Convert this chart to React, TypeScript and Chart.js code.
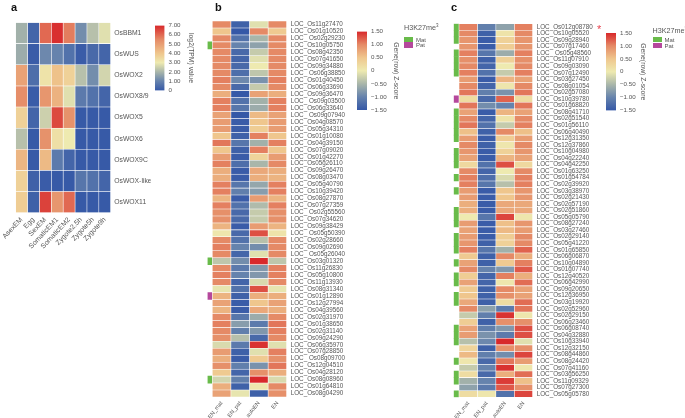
import React, { useEffect, useRef } from "react";
import { Chart, registerables } from "chart.js";

Chart.register(...registerables);

const stageNames = ["AsexEM", "Egg", "SexEM", "SomaticEM1", "SomaticEM2", "Zygote2.5h", "Zygote5h", "Zygote9h"];
const wuxGenes = ["OsBBM1", "OsWUS", "OsWOX2", "OsWOX8/9", "OsWOX5", "OsWOX6", "OsWOX9C", "OsWOX-like", "OsWOX11"];
const wuxValues = [
  [1.9, 0.3, 6.0, 6.9, 5.7, 1.2, 2.2, 2.8],
  [1.8, 0.1, 1.1, 1.0, 0.6, 0.1, 0.4, 0.3],
  [4.9, 0.5, 3.2, 4.1, 3.7, 2.2, 1.2, 2.6],
  [5.4, 0.1, 5.2, 4.5, 2.8, 0.8, 0.6, 0.3],
  [3.7, 0.3, 2.5, 6.5, 5.3, 0.05, 0.05, 0.05],
  [2.2, 0.05, 5.3, 3.3, 3.0, 0.05, 0.05, 0.05],
  [4.4, 0.05, 4.3, 0.8, 0.3, 0.05, 0.05, 0.05],
  [3.7, 0.2, 0.1, 0.05, 0.05, 0.7, 0.6, 0.3],
  [3.8, 0.2, 6.6, 5.2, 6.0, 0.05, 0.05, 0.05],
];

const tissueNames = ["EN_mat", "EN_pat", "autoEN", "EN"];

const genesB = ["LOC_Os11g27470","LOC_Os01g10520","LOC_ Os02g29230","LOC_Os10g05750","LOC_Os08g42350","LOC_Os07g41650","LOC_Os09g34880","LOC_ Os06g38850","LOC_Os01g40450","LOC_Os06g33690","LOC_Os09g36470","LOC_ Os09g03500","LOC_Os06g33640","LOC_ Os09g07940","LOC_Os04g08570","LOC_Os05g34310","LOC_Os01g10080","LOC_Os04g39150","LOC_Os07g09020","LOC_Os01g42270","LOC_Os05g26110","LOC_Os09g26470","LOC_Os08g03470","LOC_Os05g40790","LOC_Os10g39420","LOC_Os08g27870","LOC_Os07g27359","LOC_ Os02g55560","LOC_Os07g34620","LOC_Os09g38429","LOC_ Os05g50390","LOC_Os02g28660","LOC_Os09g02690","LOC_ Os05g26040","LOC_Os03g01320","LOC_Os11g26830","LOC_Os05g10800","LOC_Os11g13930","LOC_Os08g31340","LOC_Os01g12890","LOC_Os12g27994","LOC_Os04g39560","LOC_Os02g31970","LOC_Os01g38650","LOC_Os02g31140","LOC_Os09g24290","LOC_Os06g35970","LOC_Os07g28850","LOC_ Os08g09700","LOC_Os12g04510","LOC_Os04g28120","LOC_Os08g08960","LOC_Os01g64810","LOC_Os08g04290"];
const valuesB = [
[1.0,-1.4,-0.1,1.0],[0.5,-1.5,1.0,0.45],[1.0,-1.2,-0.5,1.0],[1.0,-1.0,-0.7,1.0],[1.0,-1.3,-0.3,1.0],[1.0,-1.35,-0.1,1.0],[1.0,-1.3,0.0,1.0],[1.0,-1.25,-0.35,1.0],[1.05,-0.95,-0.85,1.05],[1.0,-1.3,-0.3,1.0],
[0.7,-1.5,0.8,0.7],[1.05,-1.2,-0.55,1.05],[1.05,-1.15,-0.6,1.05],[0.8,-1.5,0.6,0.8],[0.85,-1.45,0.5,0.85],[0.85,-1.45,0.4,0.85],[0.5,-1.4,1.05,0.5],[1.1,-1.15,-0.55,1.05],[0.5,-1.4,1.05,0.5],[0.85,-1.45,0.3,0.85],
[1.05,-1.25,-0.5,1.0],[0.7,-1.45,0.75,0.7],[0.7,-1.45,0.7,0.65],[1.05,-1.15,-0.65,1.05],[1.05,-1.05,-0.75,1.05],[0.65,-1.45,0.85,0.65],[1.05,-1.2,-0.45,1.05],[0.95,-1.3,-0.3,0.95],[0.95,-1.3,-0.3,0.95],[0.65,-1.45,0.85,0.65],
[0.05,-1.3,1.3,0.1],[1.0,-1.2,-0.4,1.0],[1.05,-1.0,-0.9,1.0],[1.0,-1.35,-0.1,1.0],[-0.35,-0.9,1.5,-0.35],[1.0,-1.1,-0.8,1.05],[1.05,-1.0,-0.8,1.05],[1.0,-1.35,-0.15,1.0],[-0.05,-1.2,1.3,-0.05],[0.65,-1.4,0.7,0.7],
[0.8,-1.45,0.5,0.8],[0.65,-1.45,0.75,0.7],[1.0,-1.15,-0.6,1.0],[1.05,-0.75,-1.1,1.1],[1.0,-1.05,-0.8,1.05],[0.95,-0.4,-1.3,1.0],[-0.15,-1.1,1.45,-0.1],[0.85,-1.4,-0.1,1.05],[0.7,-1.45,0.45,0.95],[0.95,-1.05,-0.85,1.1],
[0.45,-1.35,0.95,0.7],[-0.2,-1.05,1.5,-0.15],[0.7,-1.4,0.05,1.0],[0.8,-0.05,-1.4,0.95],
];
const imprintB = ["","","","M","","","","","","","","","","","","","","","","","","","","","","","","","","","","","","","M","","","","","P","","","","","","","","","","","","M","",""];

const genesC = ["LOC_Os012g08780","LOC_Os10g05520","LOC_Os09g28940","LOC_Os07g17460","LOC_ Os05g48560","LOC_Os11g07910","LOC_Os09g03090","LOC_Os07g12490","LOC_Os03g27450","LOC_Os08g01054","LOC_Os02g57080","LOC_Os10g39780","LOC_Os01g68820","LOC_Os08g41710","LOC_Os02g51540","LOC_Os01g56110","LOC_Os06g40490","LOC_Os12g31350","LOC_Os12g37860","LOC_Os10g04980","LOC_Os04g22240","LOC_Os04g42250","LOC_Os01g63250","LOC_Os01g54784","LOC_Os02g39920","LOC_Os03g38970","LOC_Os02g21430","LOC_Os02g57190","LOC_Os02g51860","LOC_Os05g05790","LOC_Os08g27240","LOC_Os03g27460","LOC_Os02g29140","LOC_Os05g41220","LOC_Os01g65850","LOC_Os06g06870","LOC_Os10g04890","LOC_Os01g07740","LOC_Os12g40520","LOC_Os06g42990","LOC_Os09g20650","LOC_Os12g36950","LOC_Os03g19920","LOC_Os02g52960","LOC_Os02g29150","LOC_Os06g23460","LOC_Os06g08740","LOC_Os04g32880","LOC_Os10g33940","LOC_Os12g32150","LOC_Os08g44860","LOC_Os08g24420","LOC_Os07g41160","LOC_Os03g56250","LOC_Os11g09329","LOC_Os07g27300","LOC_Os05g05780"];
const valuesC = [
[1.05,-1.05,-0.7,1.05],[1.0,-1.4,0.1,1.0],[0.9,-1.45,0.35,0.9],[0.9,-1.45,0.4,0.9],[1.05,-1.15,-0.6,1.05],[0.95,-1.4,0.35,0.95],[1.0,-1.35,0.0,1.0],[1.05,-1.2,-0.3,1.05],[0.85,-1.45,0.65,0.8],[1.0,-1.35,0.05,1.0],
[1.1,-1.05,-0.85,1.1],[0.2,-1.3,1.2,0.2],[1.1,-0.9,-1.0,1.1],[0.8,-1.45,0.65,0.8],[1.0,-1.35,0.1,1.0],[1.1,-1.2,-0.3,1.05],[0.55,-1.4,1.0,0.55],[0.85,-1.45,0.4,0.85],[1.0,-1.4,0.05,1.0],[0.9,-1.45,0.35,0.9],
[0.8,-1.45,0.65,0.8],[0.25,-1.2,1.3,0.25],[1.0,-1.35,0.0,1.0],[1.05,-1.25,-0.15,1.05],[1.05,-1.15,-0.4,1.05],[0.85,-1.45,0.5,0.9],[0.85,-1.45,0.5,0.9],[0.7,-1.45,0.75,0.75],[0.7,-1.45,0.75,0.75],[0.0,-1.15,1.35,0.05],
[0.85,-1.45,0.55,0.9],[0.8,-1.45,0.6,0.85],[0.85,-1.45,0.4,1.0],[0.9,-1.4,0.35,1.0],[1.05,-1.15,-0.55,1.2],[0.45,-1.4,1.0,0.7],[0.8,-1.4,0.45,1.05],[1.0,-1.0,-0.8,1.25],[0.4,-1.35,1.05,0.7],[0.8,-1.35,0.05,1.15],
[0.45,-1.4,1.0,0.8],[0.5,-1.4,0.95,0.8],[0.75,-1.4,0.2,1.15],[1.0,-0.7,-1.1,1.1],[-0.3,-1.05,1.45,0.05],[0.4,-1.4,0.95,0.95],[0.8,-1.05,-0.8,1.3],[0.85,-0.85,-1.1,1.3],[-0.4,-0.95,1.5,-0.1],[0.3,-1.4,0.95,0.95],
[0.6,-1.05,-0.9,1.35],[0.05,-1.3,1.1,0.85],[-0.3,-1.0,1.45,0.05],[0.2,-1.3,0.7,1.15],[-0.55,-1.0,1.4,0.55],[-0.7,-1.1,1.25,0.95],[0.2,0.05,-1.2,1.35],
];
const imprintC = ["M","M","M","","M","M","M","M","","","","P","","M","M","M","M","M","","M","M","M","","M","","M","","","M","M","M","","M","M","M","","M","","M","M","","M","M","","","","M","M","M","","","M","","M","M","","M"];

const zStops = [-1.5, -1, -0.5, 0, 0.5, 1, 1.5];
const logStops = [0, 1, 2, 3, 4, 5.5, 7];
const rampColors = ["#3558a7", "#6683ad", "#a9b6aa", "#eeeab0", "#efc68d", "#e58a66", "#d8282b"];
const zTicks = [-1.5, -1, -0.5, 0, 0.5, 1, 1.5];
const logTicks = [0, 1, 2, 3, 4, 5, 6, 7];

const LABEL_FONT = "'Liberation Sans', Arial, sans-serif";
const TEXT = "#555555";
const MAT = "#69bb4a";
const PAT = "#b5489c";

function hexRgb(h: string) {
  return [1, 3, 5].map((i) => parseInt(h.slice(i, i + 2), 16));
}
function rampColor(v: number, stops: number[]) {
  if (v <= stops[0]) return rampColors[0];
  for (let i = 1; i < stops.length; i++) {
    if (v <= stops[i]) {
      const t = (v - stops[i - 1]) / (stops[i] - stops[i - 1]);
      const a = hexRgb(rampColors[i - 1]);
      const b = hexRgb(rampColors[i]);
      return `rgb(${a.map((c, k) => Math.round(c + (b[k] - c) * t)).join(",")})`;
    }
  }
  return rampColors[rampColors.length - 1];
}

type Box = { left: number; top: number; right: number; bottom: number };

const noGrid = { display: false, drawTicks: false };

function heatConfig(opts: {
  box: Box; rows: string[]; cols: string[]; values: number[][]; stops: number[]; imprint?: string[]; stripWidth?: number; fontSize: number; xFont: number; xAngle: number; gap: number; labelWidth: number;
}) {
  const { box, rows, cols, values, stops, imprint, stripWidth = 0, fontSize, xFont, xAngle, gap, labelWidth } = opts;
  const gridWidth = box.right - box.left;
  const cell = (gridWidth - stripWidth) / cols.length;
  const stripUnits = stripWidth / cell;
  const datasets: any[] = cols.map((name, c) => ({
    label: name,
    grouped: false,
    data: rows.map(() => [c, c + 1]),
    backgroundColor: values.map((r) => rampColor(r[c], stops)),
    borderColor: "rgba(255,255,255,0.55)",
    borderWidth: 0.6,
    borderSkipped: false,
    barPercentage: 1,
    categoryPercentage: 1,
  }));
  if (imprint) {
    datasets.push({
      label: "H3K27me3",
      grouped: false,
      data: imprint.map((m) => (m ? [-stripUnits, -0.03] : null)),
      backgroundColor: imprint.map((m) => (m === "P" ? PAT : MAT)),
      borderWidth: 0,
      barPercentage: 1,
      categoryPercentage: 1,
    });
  }
  return {
    type: "bar",
    data: { labels: rows, datasets },
    options: {
      indexAxis: "y",
      responsive: false,
      animation: false,
      events: [],
      layout: { autoPadding: false, padding: { left: box.left, top: box.top, right: 685 - box.right - labelWidth, bottom: 0 } },
      plugins: { legend: { display: false }, tooltip: { enabled: false } },
      scales: {
        x: {
          type: "linear",
          min: -stripUnits,
          max: cols.length,
          grid: noGrid,
          border: { display: false },
          afterFit: (s: any) => { s.height = 418 - box.bottom; },
          afterBuildTicks: (s: any) => { s.ticks = cols.map((_, i) => ({ value: i + 0.5 })); },
          ticks: {
            autoSkip: false,
            minRotation: xAngle,
            maxRotation: xAngle,
            padding: 3,
            color: TEXT,
            font: { family: LABEL_FONT, size: xFont },
            callback: (v: number) => cols[Math.round(v - 0.5)],
          },
        },
        y: {
          position: "right",
          grid: noGrid,
          border: { display: false },
          afterFit: (s: any) => { s.width = labelWidth; },
          ticks: { autoSkip: false, padding: gap, color: TEXT, font: { family: LABEL_FONT, size: fontSize } },
        },
      },
    },
  };
}

function barConfig(opts: { box: Box; min: number; max: number; ticks: number[]; stops: number[]; title: string; fmt: (v: number) => string; axisWidth: number }) {
  const { box, min, max, ticks, stops, title, fmt, axisWidth } = opts;
  return {
    type: "bar",
    data: {
      labels: [title],
      datasets: [
        {
          label: title,
          data: [[min, max]],
          borderWidth: 0,
          borderSkipped: false,
          barPercentage: 1,
          categoryPercentage: 1,
          backgroundColor: (ctx: any) => {
            const area = ctx.chart.chartArea;
            if (!area) return rampColors[0];
            const g = ctx.chart.ctx.createLinearGradient(0, area.bottom, 0, area.top);
            stops.forEach((s, i) => g.addColorStop((s - min) / (max - min), rampColors[i]));
            return g;
          },
        },
      ],
    },
    options: {
      responsive: false,
      animation: false,
      events: [],
      layout: { autoPadding: false, padding: { left: box.left, top: box.top, right: 685 - box.right - axisWidth, bottom: 418 - box.bottom } },
      plugins: { legend: { display: false }, tooltip: { enabled: false } },
      scales: {
        x: { display: false },
        y: {
          position: "right",
          min,
          max,
          grid: noGrid,
          border: { display: false },
          afterFit: (s: any) => { s.width = axisWidth; },
          afterBuildTicks: (s: any) => { s.ticks = ticks.map((value) => ({ value })); },
          ticks: { autoSkip: false, padding: 4, color: TEXT, font: { family: LABEL_FONT, size: 6.2 }, callback: (v: number) => fmt(v) },
          title: { display: true, text: title, color: TEXT, font: { family: LABEL_FONT, size: 6.8 }, padding: 0 },
        },
      },
    },
  };
}

const fmtLog = (v: number) => (v === 0 ? "0" : v.toFixed(2));
const fmtZ = (v: number) => (v === 0 ? "0" : (v < 0 ? "\u2212" : "") + Math.abs(v).toFixed(2));

const abs = (left: number, top: number, extra: React.CSSProperties = {}): React.CSSProperties => ({
  position: "absolute", left, top, fontFamily: LABEL_FONT, color: TEXT, whiteSpace: "nowrap", lineHeight: 1, ...extra,
});

function Legend({ x, y, sw }: { x: number; y: number; sw: number }) {
  return (
    <>
      <div style={abs(x, y, { fontSize: 7.2 })}>H3K27me<sup style={{ fontSize: 4.5, verticalAlign: "super", lineHeight: 0 }}>3</sup></div>
      <div style={abs(x, sw, { width: 9, height: 5.2, background: MAT })} />
      <div style={abs(x, sw + 5.4, { width: 9, height: 5.2, background: PAT })} />
      <div style={abs(x + 12, sw - 0.2, { fontSize: 6 })}>Mat</div>
      <div style={abs(x + 12, sw + 5.2, { fontSize: 6 })}>Pat</div>
    </>
  );
}

export default function App() {
  const refs = useRef<(HTMLCanvasElement | null)[]>([]);
  useEffect(() => {
    const configs: any[] = [
      heatConfig({ box: { left: 12.3, top: 22.5, right: 110.7, bottom: 212.7 }, rows: wuxGenes, cols: stageNames, values: wuxValues, stops: logStops, fontSize: 6.8, xFont: 7, xAngle: 47, gap: 3.5, labelWidth: 40 }),
      barConfig({ box: { left: 155, top: 25.5, right: 164.5, bottom: 90.5 }, min: 0, max: 7, ticks: logTicks, stops: logStops, title: "log2(TPM) value", fmt: fmtLog, axisWidth: 30 }),
      heatConfig({ box: { left: 207.5, top: 21, right: 286.7, bottom: 397 }, rows: genesB, cols: tissueNames, values: valuesB, stops: zStops, imprint: imprintB, stripWidth: 4.8, fontSize: 6.3, xFont: 5.6, xAngle: 52, gap: 4, labelWidth: 65 }),
      barConfig({ box: { left: 357, top: 31.5, right: 367, bottom: 110 }, min: -1.5, max: 1.5, ticks: zTicks, stops: zStops, title: "Gene(row) Z-score", fmt: fmtZ, axisWidth: 33 }),
      heatConfig({ box: { left: 453.7, top: 23.7, right: 532.7, bottom: 397.3 }, rows: genesC, cols: tissueNames, values: valuesC, stops: zStops, imprint: imprintC, stripWidth: 5.3, fontSize: 6.3, xFont: 5.6, xAngle: 52, gap: 4, labelWidth: 65 }),
      barConfig({ box: { left: 606, top: 33, right: 616, bottom: 110.5 }, min: -1.5, max: 1.5, ticks: zTicks, stops: zStops, title: "Gene(row) Z-score", fmt: fmtZ, axisWidth: 31 }),
    ];
    const charts = configs.map((c, i) => new Chart(refs.current[i] as HTMLCanvasElement, c));
    return () => charts.forEach((c) => c.destroy());
  }, []);
  return (
    <div style={{ position: "absolute", left: 0, top: 0, width: 685, height: 418, background: "#fff", overflow: "hidden" }}>
      {[0, 1, 2, 3, 4, 5].map((i) => (
        <canvas key={i} ref={(el) => { refs.current[i] = el; }} width={685} height={418} style={{ position: "absolute", left: 0, top: 0, width: 685, height: 418 }} />
      ))}
      <div style={abs(11, 2, { fontSize: 11, fontWeight: 700, color: "#111" })}>a</div>
      <div style={abs(215, 2, { fontSize: 11, fontWeight: 700, color: "#111" })}>b</div>
      <div style={abs(451, 2, { fontSize: 11, fontWeight: 700, color: "#111" })}>c</div>
      <div style={abs(597, 24, { fontSize: 11, color: "#e8434f" })}>*</div>
      <Legend x={404} y={23.5} sw={37} />
      <Legend x={652.5} y={26.5} sw={37.3} />
    </div>
  );
}
